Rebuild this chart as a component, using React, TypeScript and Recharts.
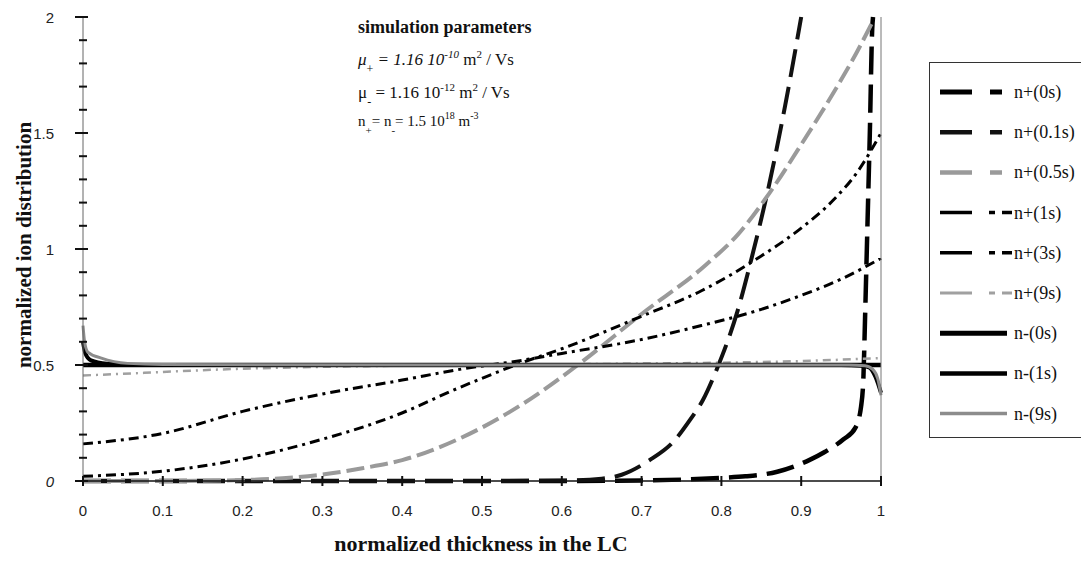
import React from 'react';
import { LineChart, Line, XAxis, YAxis } from 'recharts';

// axis ticks
const xTicks = [0, 0.1, 0.2, 0.3, 0.4, 0.5, 0.6, 0.7, 0.8, 0.9, 1];
const xTickLabels = ['0', '0.1', '0.2', '0.3', '0.4', '0.5', '0.6', '0.7', '0.8', '0.9', '1'];
const yTicks = [0, 0.1, 0.2, 0.3, 0.4, 0.5, 0.6, 0.7, 0.8, 0.9, 1, 1.1, 1.2, 1.3, 1.4, 1.5, 1.6, 1.7, 1.8, 1.9, 2];
const yMajorTicks = [0, 0.5, 1, 1.5, 2];
const yMajorLabels = ['0', '0.5', '1', '1.5', '2'];

// series: [normalized thickness, normalized ion distribution]
const nPlus0s: [number, number][] = [
  [0, 0], [0.1, 0], [0.2, 0], [0.3, 0], [0.4, 0], [0.5, 0], [0.6, 0], [0.7, 0.002], [0.75, 0.006],
  [0.8, 0.014], [0.83, 0.02], [0.87, 0.04], [0.91, 0.09], [0.93, 0.126], [0.953, 0.18], [0.968, 0.23],
  [0.975, 0.32], [0.978, 0.45], [0.98, 0.7], [0.983, 1.1], [0.986, 1.5], [0.989, 1.95], [0.99, 2.0],
];
const nPlus01s: [number, number][] = [
  [0, 0], [0.1, 0], [0.2, 0], [0.3, 0], [0.4, 0], [0.5, 0], [0.6, 0.002], [0.65, 0.01], [0.675, 0.027],
  [0.71, 0.09], [0.74, 0.17], [0.76, 0.26], [0.777, 0.35], [0.794, 0.48], [0.82, 0.73], [0.84, 0.99],
  [0.86, 1.28], [0.88, 1.62], [0.9, 2.0],
];
const nPlus05s: [number, number][] = [
  [0, 0], [0.1, 0], [0.2, 0.004], [0.25, 0.012], [0.3, 0.028], [0.35, 0.055], [0.4, 0.09], [0.47, 0.18],
  [0.55, 0.33], [0.62, 0.5], [0.7, 0.72], [0.78, 0.93], [0.82, 1.06], [0.86, 1.24], [0.9, 1.45],
  [0.945, 1.7], [0.97, 1.85], [0.988, 1.97],
];
const nPlus1s: [number, number][] = [
  [0, 0.02], [0.1, 0.042], [0.2, 0.095], [0.3, 0.18], [0.39, 0.28], [0.47, 0.4], [0.55, 0.51], [0.6, 0.57],
  [0.7, 0.71], [0.775, 0.82], [0.85, 0.97], [0.9, 1.09], [0.94, 1.21], [0.97, 1.33], [1, 1.5],
];
const nPlus3s: [number, number][] = [
  [0, 0.16], [0.1, 0.205], [0.2, 0.3], [0.3, 0.375], [0.4, 0.435], [0.47, 0.48], [0.55, 0.52], [0.6, 0.55],
  [0.7, 0.61], [0.775, 0.67], [0.85, 0.74], [0.9, 0.8], [0.95, 0.87], [1, 0.96],
];
const nPlus9s: [number, number][] = [
  [0, 0.455], [0.05, 0.462], [0.1, 0.47], [0.2, 0.484], [0.3, 0.492], [0.4, 0.497], [0.5, 0.5],
  [0.6, 0.503], [0.7, 0.506], [0.8, 0.51], [0.9, 0.517], [1, 0.53],
];
const nMinus0s: [number, number][] = [[0, 0.5], [0.5, 0.5], [1, 0.5]];
const nMinus1s: [number, number][] = [
  [0, 0.6], [0.003, 0.55], [0.01, 0.52], [0.03, 0.505], [0.06, 0.5], [0.5, 0.5], [0.95, 0.5],
  [0.975, 0.497], [0.985, 0.49], [0.993, 0.45], [1, 0.38],
];
const nMinus9s: [number, number][] = [
  [0, 0.67], [0.002, 0.6], [0.006, 0.556], [0.023, 0.53], [0.056, 0.507], [0.1, 0.502], [0.5, 0.5],
  [0.96, 0.5], [0.98, 0.497], [0.99, 0.48], [0.996, 0.44], [1, 0.37],
];

const seriesNames = ['n+(0s)', 'n+(0.1s)', 'n+(0.5s)', 'n+(1s)', 'n+(3s)', 'n+(9s)', 'n-(0s)', 'n-(1s)', 'n-(9s)'];
const seriesData = [nPlus0s, nPlus01s, nPlus05s, nPlus1s, nPlus3s, nPlus9s, nMinus0s, nMinus1s, nMinus9s];

const seriesStyle = [
  { color: '#000', width: 4.5, dash: '28 10', legendDash: '32 18 12' },
  { color: '#111', width: 4, dash: '28 10', legendDash: '32 18 12' },
  { color: '#9a9a9a', width: 4, dash: '18 6', legendDash: '32 18 12' },
  { color: '#000', width: 3, dash: '10 5 3 5', legendDash: '32 17 6 7 10' },
  { color: '#000', width: 3, dash: '10 5 3 5', legendDash: '32 17 6 7 10' },
  { color: '#a0a0a0', width: 2.5, dash: '8 5 2 5', legendDash: '32 17 6 7 10' },
  { color: '#000', width: 4.5, dash: undefined, legendDash: undefined },
  { color: '#000', width: 4, dash: undefined, legendDash: undefined },
  { color: '#8c8c8c', width: 3, dash: undefined, legendDash: undefined },
];

const tickFont = { fontFamily: '"Liberation Sans", Arial, sans-serif', fontSize: 15, fill: '#222' };
const serif = '"Liberation Serif", "Times New Roman", serif';

// tick mark + label drawn together, crossing the axis line
const LeftTick = (props: any) => {
  const x = Number(props.x);
  const y = Number(props.y);
  const v = props.payload.value;
  const i = yMajorTicks.indexOf(v);
  const major = i >= 0;
  return (
    <g>
      <rect x={x - (major ? 8 : 4)} y={y - 1} width={major ? 13 : 8} height={2} fill="#111" />
      {major && (
        <text x={x - 29} y={y} textAnchor="end" dominantBaseline="central" {...tickFont}
          fontStyle={v === 0 ? 'italic' : 'normal'}>
          {yMajorLabels[i]}
        </text>
      )}
    </g>
  );
};

const RightTick = (props: any) => {
  const x = Number(props.x);
  const y = Number(props.y);
  const v = props.payload.value;
  const i = yMajorTicks.indexOf(v);
  const major = i >= 0;
  return (
    <g>
      <rect x={x - (major ? 6 : 4)} y={y - 1} width={major ? 15 : 8} height={2} fill="#222" />
      {major && (
        <text x={x + 19} y={y} textAnchor="start" dominantBaseline="central" {...tickFont}
          fontStyle={v === 0 ? 'italic' : 'normal'}>
          {yMajorLabels[i]}
        </text>
      )}
    </g>
  );
};

const BottomTick = (props: any) => {
  const x = Number(props.x);
  const y = Number(props.y);
  const i = xTicks.indexOf(props.payload.value);
  return (
    <g>
      <rect x={x - 1} y={y - 5} width={2} height={10} fill="#111" />
      <text x={x} y={y + 29} textAnchor="middle" dominantBaseline="central" {...tickFont}>
        {xTickLabels[i]}
      </text>
    </g>
  );
};

const Sub = ({ children, size = 12 }: any) => <tspan dy={8} fontSize={size}>{children}</tspan>;

export default function App() {
  return (
    <div style={{ position: 'absolute', left: 0, top: 0, width: 1081, height: 561, background: '#fff' }}>
      {/* texts sit underneath the transparent chart surface */}
      <svg width={1081} height={561} style={{ position: 'absolute', left: 0, top: 0 }}>
        <g fontFamily={serif} fill="#111" style={{ whiteSpace: 'pre' }}>
          <text x={358} y={33} fontSize={18} fontWeight="bold">simulation parameters</text>
          <text x={358} y={65} fontSize={17}>
            <tspan fontStyle="italic">μ</tspan>
            <Sub>+</Sub>
            <tspan dy={-8} fontStyle="italic"> = 1.16 10</tspan>
            <tspan dy={-7} fontSize={11} fontStyle="italic">-10</tspan>
            <tspan dy={7}>  m</tspan>
            <tspan dy={-7} fontSize={11}>2</tspan>
            <tspan dy={7}> / Vs</tspan>
          </text>
          <text x={358} y={98} fontSize={17}>
            <tspan>μ</tspan>
            <Sub>-</Sub>
            <tspan dy={-8}> = 1.16 10</tspan>
            <tspan dy={-7} fontSize={11}>-12</tspan>
            <tspan dy={7}>  m</tspan>
            <tspan dy={-7} fontSize={11}>2</tspan>
            <tspan dy={7}> / Vs</tspan>
          </text>
          <text x={358} y={126} fontSize={15}>
            <tspan>n</tspan>
            <Sub size={11}>+</Sub>
            <tspan dy={-8}>= n</tspan>
            <Sub size={11}>-</Sub>
            <tspan dy={-8}>= 1.5 10</tspan>
            <tspan dy={-7} fontSize={10}>18</tspan>
            <tspan dy={7}>  m</tspan>
            <tspan dy={-7} fontSize={10}>-3</tspan>
          </text>
          <text
            transform="translate(24,245) rotate(-90)"
            textAnchor="middle"
            dominantBaseline="central"
            fontSize={21}
            fontWeight="bold"
          >
            normalized ion distribution
          </text>
          <text x={481} y={551} textAnchor="middle" fontSize={22} fontWeight="bold">
            normalized thickness in the LC
          </text>
        </g>
      </svg>

      <LineChart width={1081} height={561} margin={{ top: 17, right: 0, bottom: 0, left: 0 }}>
        <XAxis
          dataKey="x"
          type="number"
          domain={[0, 1]}
          ticks={xTicks}
          interval={0}
          height={80}
          tickSize={0}
          tickMargin={0}
          tickLine={false}
          tick={<BottomTick />}
          axisLine={{ stroke: '#111', strokeWidth: 1.5 }}
        />
        <YAxis
          yAxisId="left"
          type="number"
          domain={[0, 2]}
          ticks={yTicks}
          interval={0}
          width={83}
          tickSize={0}
          tickMargin={0}
          tickLine={false}
          tick={<LeftTick />}
          axisLine={{ stroke: '#666', strokeWidth: 1 }}
        />
        <YAxis
          yAxisId="right"
          orientation="right"
          type="number"
          domain={[0, 2]}
          ticks={yTicks}
          interval={0}
          width={200}
          tickSize={0}
          tickMargin={0}
          tickLine={false}
          tick={<RightTick />}
          axisLine={{ stroke: '#777', strokeWidth: 1 }}
        />
        {seriesNames.map((name, i) => (
          <Line
            key={name}
            name={name}
            yAxisId="left"
            data={seriesData[i].map(([x, y]) => ({ x, y }))}
            dataKey="y"
            type="monotone"
            stroke={seriesStyle[i].color}
            strokeWidth={seriesStyle[i].width}
            strokeDasharray={seriesStyle[i].dash}
            dot={false}
            activeDot={false}
            isAnimationActive={false}
          />
        ))}
      </LineChart>

      <div
        style={{
          position: 'absolute',
          left: 929,
          top: 62,
          width: 160,
          height: 376,
          border: '1.5px solid #333',
          background: '#fff',
          boxSizing: 'border-box',
        }}
      >
        <svg width={160} height={376} style={{ position: 'absolute', left: 0, top: 0 }}>
          {seriesNames.map((name, i) => {
            const cy = 29 + i * 40.2;
            return (
              <g key={name}>
                <line
                  x1={10}
                  x2={name.startsWith('n-') ? 77 : 82}
                  y1={cy}
                  y2={cy}
                  stroke={seriesStyle[i].color}
                  strokeWidth={seriesStyle[i].width + 0.5}
                  strokeDasharray={seriesStyle[i].legendDash}
                />
                <text x={84} y={cy} dominantBaseline="central" fontFamily={serif} fontSize={18} fill="#111">
                  {name}
                </text>
              </g>
            );
          })}
        </svg>
      </div>
    </div>
  );
}
